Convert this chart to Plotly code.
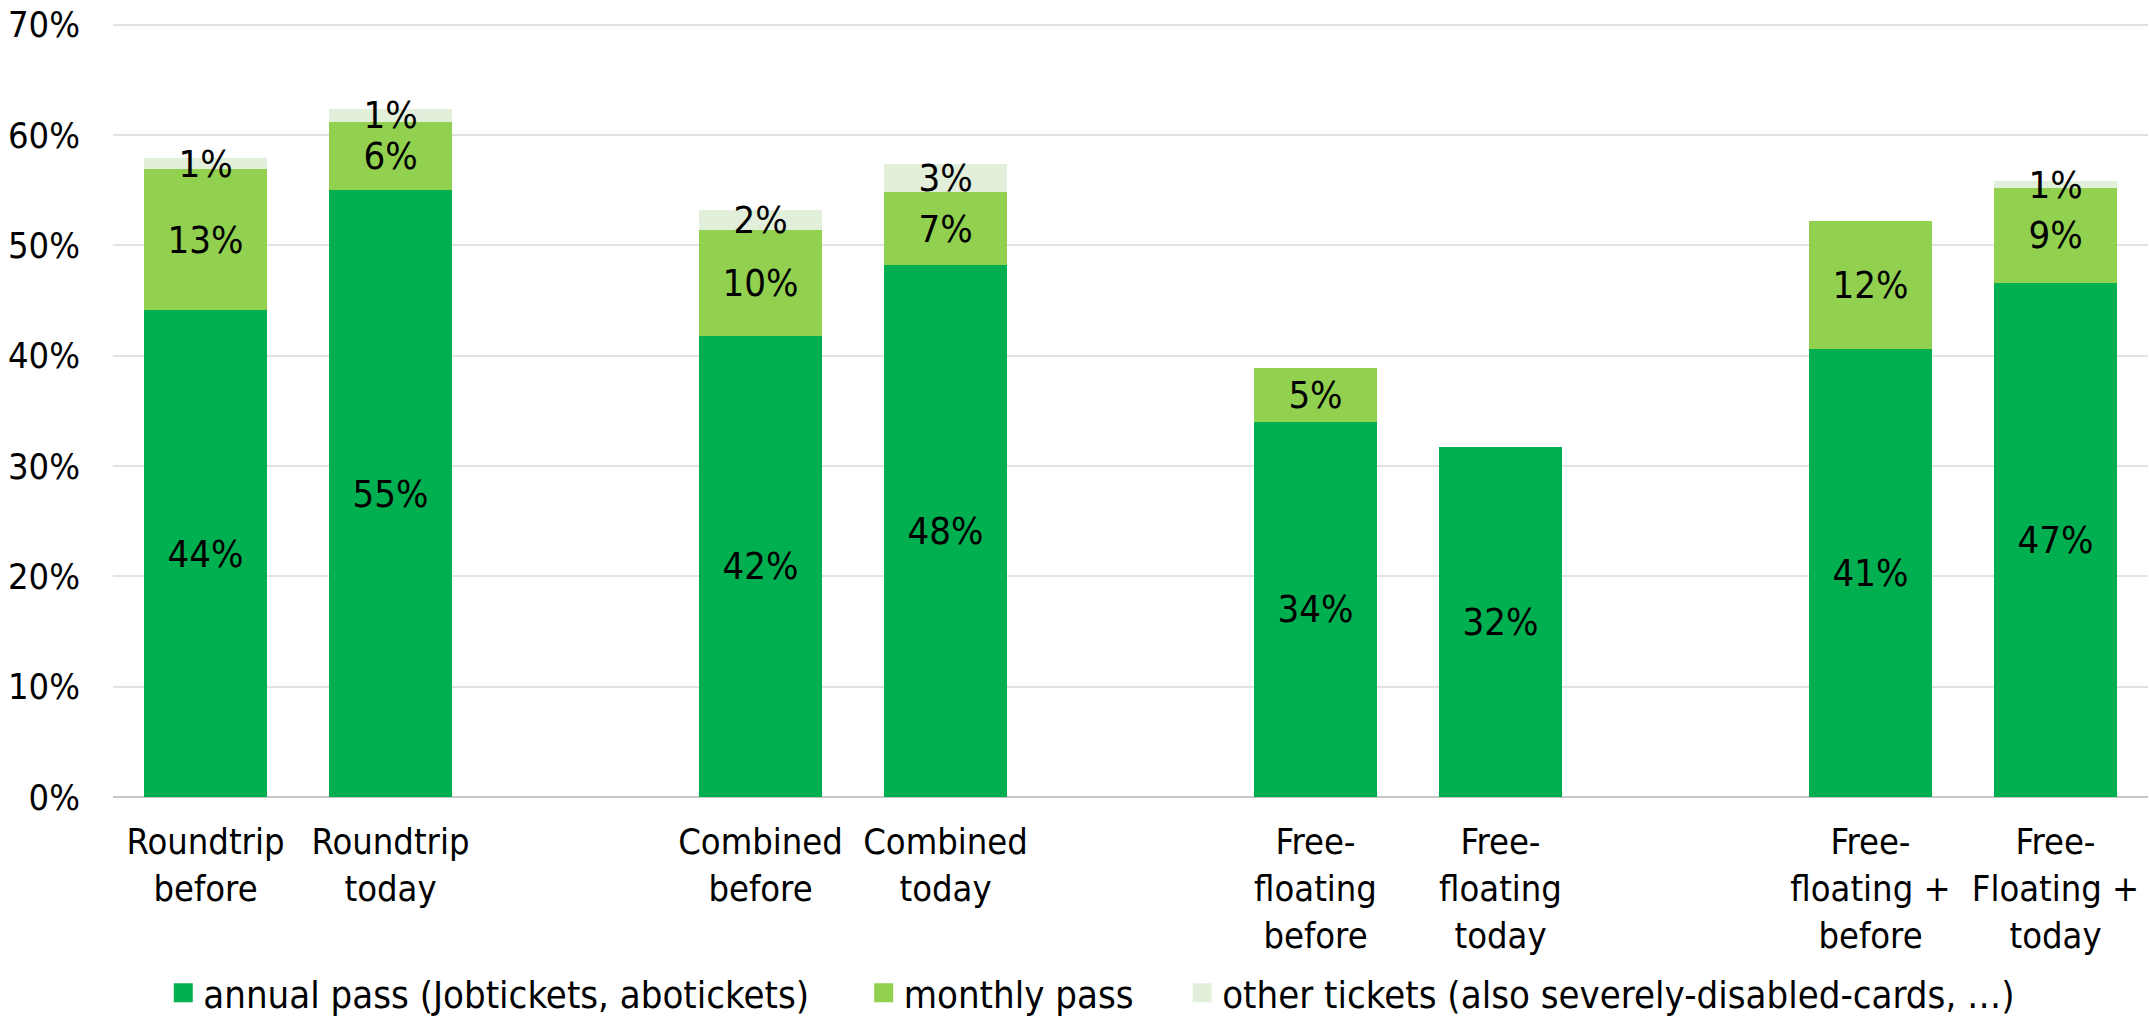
import plotly.graph_objects as go

categories = ["Roundtrip<br>before", "Roundtrip<br>today", " ",
              "Combined<br>before", "Combined<br>today", "  ",
              "Free-<br>floating<br>before", "Free-<br>floating<br>today", "   ",
              "Free-<br>floating +<br>before", "Free-<br>Floating +<br>today"]

annual = [44.1, 55.0, None, 41.8, 48.2, None, 34.0, 31.7, None, 40.6, 46.6]
monthly = [12.8, 6.2, None, 9.6, 6.6, None, 4.9, None, None, 11.6, 8.6]
other = [1.0, 1.2, None, 1.8, 2.6, None, None, None, None, None, 0.6]

series_names = ["annual pass (Jobtickets, abotickets)", "monthly pass",
                "other tickets (also severely-disabled-cards, \u2026)"]
series_colors = ["#00B050", "#92D050", "#E2EFDA"]

FONT = "DejaVu Sans Condensed, DejaVu Sans, sans-serif"
FS = 38
TICK_FS = 36

def frac(vals):
    return [None if v is None else v / 100 for v in vals]

fig = go.Figure()
for vals, name, color in zip([annual, monthly, other], series_names, series_colors):
    fig.add_trace(go.Bar(
        x=categories, y=frac(vals), name=name, marker_color=color,
        marker_line_width=0,
        texttemplate="%{y:.0%}", textposition="inside", insidetextanchor="middle",
        constraintext="none", textangle=0,
        insidetextfont=dict(family=FONT, size=FS, color="black"),
        showlegend=False, hoverinfo="skip",
    ))

legend_ids = ["legend", "legend2", "legend3"]
for name, color, lid in zip(series_names, series_colors, legend_ids):
    fig.add_trace(go.Scatter(
        x=[None], y=[None], mode="markers", name=name,
        marker=dict(symbol="square", size=16, color=color,
                    line=dict(width=3, color=color)),
        showlegend=True, legend=lid,
    ))

legend_common = dict(orientation="h", yanchor="middle", y=-0.253, xanchor="left",
                     font=dict(family=FONT, size=FS, color="black"),
                     bgcolor="rgba(0,0,0,0)", itemwidth=30)
fig.update_layout(
    barmode="stack",
    bargap=0.33,
    width=2149, height=1018,
    margin=dict(l=113, r=1, t=22, b=221, autoexpand=False),
    plot_bgcolor="white", paper_bgcolor="white",
    font=dict(family=FONT, size=FS, color="black"),
    legend=dict(legend_common, x=0.0247),
    legend2=dict(legend_common, x=0.3689),
    legend3=dict(legend_common, x=0.5254),
    xaxis=dict(type="category", categoryorder="array", categoryarray=categories,
               showgrid=False, tickfont=dict(family=FONT, size=TICK_FS, color="black"),
               showline=False, ticks="", automargin=False, ticklabelstandoff=20),
    yaxis=dict(range=[0, 0.7025], tickvals=[0, 0.1, 0.2, 0.3, 0.4, 0.5, 0.6, 0.7],
               tickformat=".0%", showgrid=True, gridcolor="#E3E3E3", gridwidth=2,
               zeroline=True, zerolinecolor="#C6C6C6", zerolinewidth=2,
               tickfont=dict(family=FONT, size=TICK_FS, color="black"),
               ticklabelstandoff=32, automargin=False),
)

fig.write_html("out.html", config={"displayModeBar": False},
               post_script="document.body.style.margin='0';")
